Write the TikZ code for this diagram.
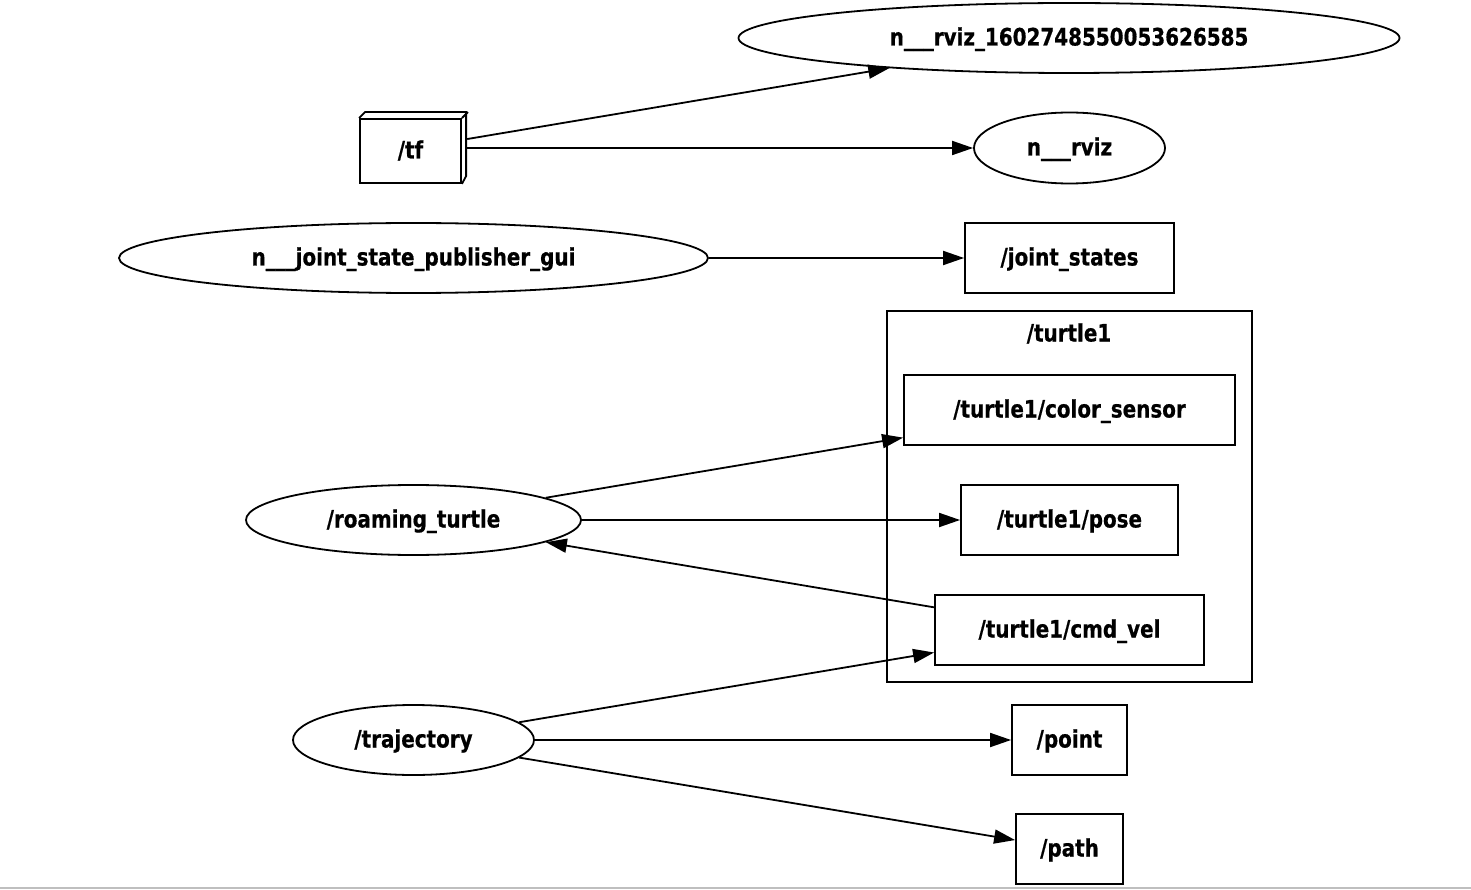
\documentclass[tikz,border=0pt]{standalone}
\usepackage{fontspec}
\setmainfont{DejaVu Sans}[BoldFeatures={FakeStretch=0.83,FakeBold=0.6}]
\usetikzlibrary{shapes.geometric,arrows.meta}
\tikzset{
  lbl/.style={font=\fontsize{24}{26}\selectfont\bfseries, inner sep=0pt, text height=19pt, text depth=4pt},
  ell/.style={draw, ellipse, line width=1.8pt, lbl},
  box/.style={draw, rectangle, line width=1.8pt, lbl},
  edge/.style={line width=1.8pt, -{Triangle[length=21pt,width=14pt]}},
}
\begin{document}
\begin{tikzpicture}[x=1pt,y=-1pt]
\useasboundingbox (0,0) rectangle (1471,890);
\draw[line width=1.5pt, black!25] (0,888) -- (1471,888);
% cluster
\draw[line width=1.8pt] (887,311) rectangle (1252,682);
\node[lbl] (clusterlabel) at (1069,334) {/turtle1};
% nodes
\node[ell, minimum width=661pt, minimum height=70pt] (rvizlong) at (1069,38) {n\_\_\_rviz\_1602748550053626585};
\node[lbl, minimum width=107pt, minimum height=70pt] (tf) at (413.5,148) {};
\node[box, minimum width=101pt, minimum height=64pt] (tffront) at (410.5,151) {/tf};
\draw[line width=1.8pt, line join=miter] (tffront.north west) -- ++(6,-6) -- ++(101,0) -- ++(0,64) -- (tffront.south east);
\draw[line width=1.8pt] (tffront.north east) -- ++(6,-6);
\node[ell, minimum width=191pt, minimum height=71pt] (rviz) at (1069.5,148) {n\_\_\_rviz};
\node[ell, minimum width=589pt, minimum height=70pt] (jsp) at (413.5,258) {n\_\_\_joint\_state\_publisher\_gui};
\node[box, minimum width=209pt, minimum height=70pt] (js) at (1069.5,258) {/joint\_states};
\node[box, minimum width=331pt, minimum height=70pt] (cs) at (1069.5,410) {/turtle1/color\_sensor};
\node[box, minimum width=217pt, minimum height=70pt] (pose) at (1069.5,520) {/turtle1/pose};
\node[box, minimum width=269pt, minimum height=70pt] (cmd) at (1069.5,630) {/turtle1/cmd\_vel};
\node[ell, minimum width=335pt, minimum height=70pt] (rt) at (413.5,520) {/roaming\_turtle};
\node[ell, minimum width=241pt, minimum height=70pt] (traj) at (413.5,740) {/trajectory};
\node[box, minimum width=115pt, minimum height=70pt] (point) at (1069.5,740) {/point};
\node[box, minimum width=107pt, minimum height=70pt] (path) at (1069.5,849) {/path};
% edges
\draw[edge] (tf) -- (rvizlong);
\draw[edge] (tf) -- (rviz);
\draw[edge] (jsp) -- (js);
\draw[edge] (rt) -- (cs);
\draw[edge] (rt) -- (pose);
\draw[edge] (cmd) -- (rt);
\draw[edge] (traj) -- (cmd);
\draw[edge] (traj) -- (point);
\draw[edge] (traj) -- (path);
\end{tikzpicture}
\end{document}
